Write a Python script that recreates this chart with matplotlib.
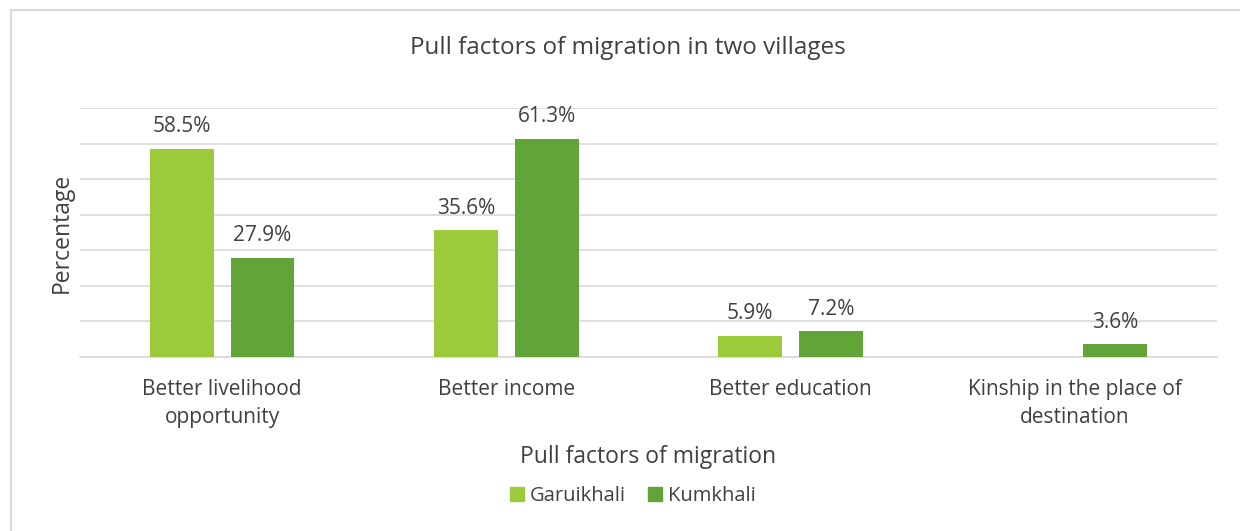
import numpy as np
import matplotlib.pyplot as plt
from matplotlib.lines import Line2D
from matplotlib.patches import Patch

categories = ['Better livelihood\nopportunity', 'Better income', 'Better education',
              'Kinship in the place of\ndestination']
garuikhali = [58.5, 35.6, 5.9, 0.0]
kumkhali = [27.9, 61.3, 7.2, 3.6]
series_names = ['Garuikhali', 'Kumkhali']
colors = ['#9BCA3B', '#62A438']
label_color = '#404040'

plt.rcParams['font.family'] = ['Open Sans', 'DejaVu Sans']

fig = plt.figure(figsize=(12.4, 5.31), dpi=100)
W, H = 1240, 531
ax = fig.add_axes([80 / W, 1 - 357 / H, (1217 - 80) / W, (357 - 108) / H])

x = np.arange(len(categories))
width = 0.225
offset = 0.142
for vals, name, col, sh in [(garuikhali, series_names[0], colors[0], -offset),
                            (kumkhali, series_names[1], colors[1], offset)]:
    bars = ax.bar(x + sh, vals, width, color=col, label=name, zorder=3)
    for b, v in zip(bars, vals):
        if v > 0:
            ax.text(b.get_x() + b.get_width() / 2, v + 6.2, f'{v:.1f}%',
                    ha='center', va='center', fontsize=15, color=label_color)

ax.set_xlim(-0.5, len(categories) - 0.5)
ax.set_ylim(0, 70)
ax.set_yticks(np.arange(0, 71, 10))
ax.set_yticklabels([])
ax.tick_params(axis='y', length=0)
ax.tick_params(axis='x', length=0, pad=16, labelsize=15, labelcolor=label_color)
ax.set_xticks(x)
ax.set_xticklabels(categories, linespacing=1.45)
ax.grid(axis='y', color='#D9D9D9', linewidth=1.2, zorder=0)
for s in ['top', 'right', 'left']:
    ax.spines[s].set_visible(False)
ax.spines['bottom'].set_color('#D9D9D9')
ax.spines['bottom'].set_linewidth(1.2)

fig.text(628 / W, 1 - 48 / H, 'Pull factors of migration in two villages',
         ha='center', va='center', fontsize=17.5, color=label_color)
fig.text(62 / W, 1 - 233 / H, 'Percentage', rotation=90, ha='center', va='center',
         fontsize=16.5, color=label_color)
fig.text(648 / W, 1 - 457 / H, 'Pull factors of migration', ha='center', va='center',
         fontsize=16.5, color=label_color)

handles = [Patch(color=c) for c in colors]
fig.legend(handles, series_names, loc='center', bbox_to_anchor=(633 / W, 1 - 496 / H),
           ncol=2, frameon=False, fontsize=14.5, labelcolor=label_color,
           handlelength=0.7, handleheight=0.7, handletextpad=0.3, columnspacing=1.1)

# outer chart frame (top and left edges visible)
fig.add_artist(Line2D([10.5 / W, 10.5 / W], [0, 1 - 10 / H], transform=fig.transFigure,
                      color='#D9D9D9', linewidth=1.5))
fig.add_artist(Line2D([10.5 / W, 1], [1 - 10 / H, 1 - 10 / H], transform=fig.transFigure,
                      color='#D9D9D9', linewidth=1.5))

fig.savefig('out.png', dpi=100)
